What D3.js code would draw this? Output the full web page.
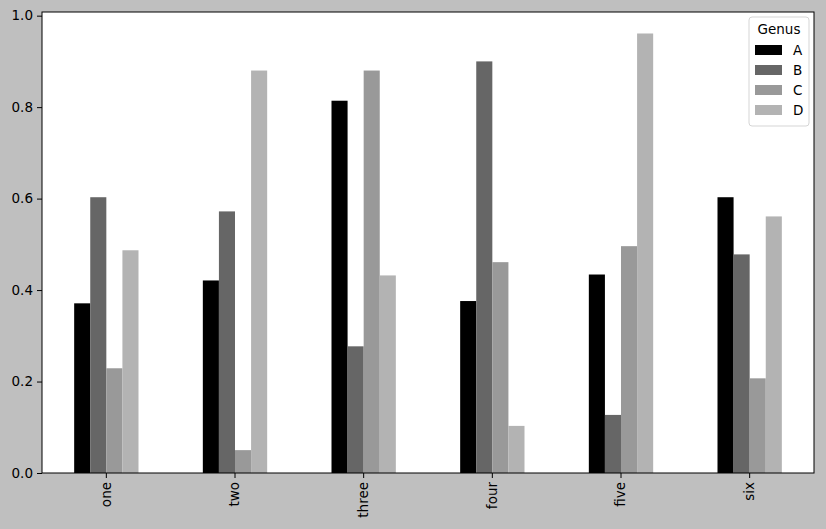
<!DOCTYPE html>
<html>
<head>
  <meta charset="utf-8">
  <script src="https://d3js.org/d3.v7.min.js"></script>
  <style>
    html, body { margin: 0; padding: 0; background: #bfbfbf; }
    svg { display: block; font-family: "DejaVu Sans", sans-serif; }
  </style>
</head>
<body>
  <div id="chart"></div>
  <script>
    var categories = ["one", "two", "three", "four", "five", "six"];
    var genus = ["A", "B", "C", "D"];
    var valuesA = [0.371, 0.421, 0.814, 0.376, 0.434, 0.603];
    var valuesB = [0.603, 0.572, 0.277, 0.900, 0.127, 0.478];
    var valuesC = [0.229, 0.050, 0.880, 0.461, 0.496, 0.207];
    var valuesD = [0.487, 0.880, 0.432, 0.103, 0.961, 0.561];
    var yTicks = [0.0, 0.2, 0.4, 0.6, 0.8, 1.0];

    var series = [valuesA, valuesB, valuesC, valuesD];
    var colors = ["#000000", "#666666", "#999999", "#b3b3b3"];

    var W = 826, H = 529;
    var margin = { top: 12, right: 12, bottom: 56, left: 42 };
    var width = W - margin.left - margin.right;
    var height = H - margin.top - margin.bottom;
    var fs = 13.5;

    var svg = d3.select("#chart")
      .append("svg")
      .attr("width", W)
      .attr("height", H);

    svg.append("rect")
      .attr("width", W)
      .attr("height", H)
      .attr("fill", "#bfbfbf");

    var g = svg.append("g")
      .attr("transform", "translate(" + margin.left + "," + margin.top + ")");

    g.append("rect")
      .attr("width", width)
      .attr("height", height)
      .attr("fill", "white");

    // category band: each category gets one unit, bars take half of it
    var x = d3.scaleBand()
      .domain(categories)
      .range([0, width])
      .paddingInner(0.5)
      .paddingOuter(0.25);

    var xSub = d3.scaleBand()
      .domain(genus)
      .range([0, x.bandwidth()]);

    var y = d3.scaleLinear()
      .domain([0, 1.008])
      .range([height, 0]);

    genus.forEach(function (gName, si) {
      g.append("g")
        .selectAll("rect")
        .data(series[si])
        .enter()
        .append("rect")
        .attr("x", function (d, i) { return x(categories[i]) + xSub(gName); })
        .attr("y", function (d) { return y(d); })
        .attr("width", xSub.bandwidth())
        .attr("height", function (d) { return y(0) - y(d); })
        .attr("fill", colors[si]);
    });

    // axes
    var yAxis = g.append("g")
      .call(d3.axisLeft(y).tickValues(yTicks).tickFormat(d3.format(".1f")).tickSize(5).tickPadding(4));
    yAxis.select(".domain").remove();
    yAxis.selectAll("text").attr("font-size", fs).attr("fill", "#000").attr("font-family", "DejaVu Sans");
    yAxis.selectAll("line").attr("stroke", "#000");

    var xAxis = g.append("g")
      .attr("transform", "translate(0," + height + ")")
      .call(d3.axisBottom(x).tickSize(5).tickPadding(4));
    xAxis.select(".domain").remove();
    xAxis.selectAll("line").attr("stroke", "#000");
    xAxis.selectAll("text")
      .attr("font-size", fs)
      .attr("fill", "#000")
      .attr("font-family", "DejaVu Sans")
      .attr("transform", "rotate(-90)")
      .attr("text-anchor", "end")
      .attr("dy", "0.32em")
      .attr("x", -9)
      .attr("y", 0);

    // frame
    g.append("rect")
      .attr("width", width)
      .attr("height", height)
      .attr("fill", "none")
      .attr("stroke", "#000")
      .attr("stroke-width", 1);

    // legend
    var legend = g.append("g")
      .attr("transform", "translate(" + (width - 65) + ",5)");

    legend.append("rect")
      .attr("width", 60)
      .attr("height", 109)
      .attr("rx", 3)
      .attr("fill", "white")
      .attr("fill-opacity", 0.8)
      .attr("stroke", "#d5d5d5");

    legend.append("text")
      .attr("x", 30)
      .attr("y", 17)
      .attr("text-anchor", "middle")
      .attr("font-size", fs)
      .text("Genus");

    var items = legend.selectAll(".item")
      .data(genus)
      .enter()
      .append("g")
      .attr("transform", function (d, i) { return "translate(0," + (33 + i * 20) + ")"; });

    items.append("rect")
      .attr("x", 6)
      .attr("y", -5)
      .attr("width", 27)
      .attr("height", 10)
      .attr("fill", function (d, i) { return colors[i]; });

    items.append("text")
      .attr("x", 44)
      .attr("y", 0)
      .attr("dy", "0.35em")
      .attr("font-size", fs)
      .text(function (d) { return d; });
  </script>
</body>
</html>
